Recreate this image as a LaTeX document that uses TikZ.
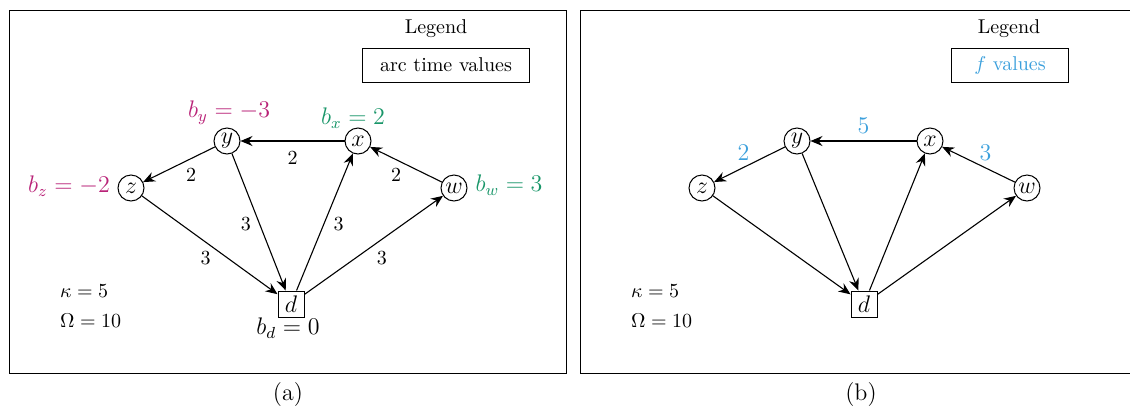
\documentclass[tikz,border=0pt]{standalone}
\usetikzlibrary{arrows.meta}
\definecolor{bneg}{RGB}{185,35,120}
\definecolor{bpos}{RGB}{25,150,105}
\definecolor{fcol}{RGB}{60,160,220}
\begin{document}
\begin{tikzpicture}[x=0.5pt,y=-0.5pt,
  vert/.style={draw,circle,minimum size=13pt,inner sep=0pt,line width=0.5pt,font=\large},
  dep/.style={draw,rectangle,minimum size=13pt,inner sep=0pt,line width=0.5pt,font=\large},
  arc/.style={-{Stealth[length=6pt,width=5pt,inset=2pt]},line width=0.55pt},
  elab/.style={inner sep=1pt},
  blab/.style={font=\large},
  flab/.style={font=\large,text=fcol},
  legbox/.style={draw,line width=0.5pt,minimum height=17pt,inner xsep=8.75pt},
  frame/.style={draw,line width=0.5pt}]
\useasboundingbox (0,0) rectangle (1130,408);
% frames
\draw[frame] (9,10) rectangle (566,373);
\draw[frame] (580,10) rectangle (1145,373);

% ---------- (a) ----------
\node[vert] (ya) at (227,141) {$y$};
\node[vert] (xa) at (358,141) {$x$};
\node[vert] (za) at (131,188) {$z$};
\node[vert] (wa) at (454,188) {$w$};
\node[dep]  (da) at (291,304) {$d$};

\node[blab,text=bneg] (bya) at (229,113) {$b_y=-3$};
\node[blab,text=bpos] (bxa) at (353,118) {$b_x=2$};
\node[blab,text=bneg] (bza) at (69,186) {$b_z=-2$};
\node[blab,text=bpos] (bwa) at (509,185) {$b_w=3$};
\node[blab] (bda) at (288,328) {$b_d=0$};

\draw[arc] (xa) -- node[elab,pos=0.5,shift={(0,17)}] {$2$} (ya);
\draw[arc] (ya) -- node[elab,pos=0.5,shift={(12,11)}] {$2$} (za);
\draw[arc] (wa) -- node[elab,pos=0.5,shift={(-10,11)}] {$2$} (xa);
\draw[arc] (ya) -- node[elab,pos=0.5,shift={(-13,2)}] {$3$} (da);
\draw[arc] (da) -- node[elab,pos=0.5,shift={(14,2)}] {$3$} (xa);
\draw[arc] (za) -- node[elab,pos=0.5,shift={(-4,13)}] {$3$} (da);
\draw[arc] (da) -- node[elab,pos=0.5,shift={(8,13)}] {$3$} (wa);

\node (lega) at (436,29) {Legend};
\node[legbox] (boxa) at (446,65) {arc time values};
\node[anchor=west] (ka) at (53,291) {$\kappa=5$};
\node[anchor=west] (oa) at (53,321) {$\Omega=10$};
\node[font=\large] (capa) at (288,395) {(a)};

% ---------- (b) ----------
\node[vert] (yb) at (797,141) {$y$};
\node[vert] (xb) at (930,141) {$x$};
\node[vert] (zb) at (702,188) {$z$};
\node[vert] (wb) at (1027,188) {$w$};
\node[dep]  (db) at (864,304) {$d$};

\draw[arc] (xb) -- node[flab,pos=0.5,shift={(0,-15)}] {$5$} (yb);
\draw[arc] (yb) -- node[flab,pos=0.5,shift={(-6,-12)}] {$2$} (zb);
\draw[arc] (wb) -- node[flab,pos=0.5,shift={(7,-12)}] {$3$} (xb);
\draw[arc] (yb) -- (db);
\draw[arc] (db) -- (xb);
\draw[arc] (zb) -- (db);
\draw[arc] (db) -- (wb);

\node (legb) at (1009,29) {Legend};
\node[legbox,text=fcol,minimum width=58.5pt] (boxb) at (1010,65) {$f$ values};
\node[anchor=west] (kb) at (624,291) {$\kappa=5$};
\node[anchor=west] (ob) at (624,321) {$\Omega=10$};
\node[font=\large] (capb) at (861,395) {(b)};
\end{tikzpicture}
\end{document}
